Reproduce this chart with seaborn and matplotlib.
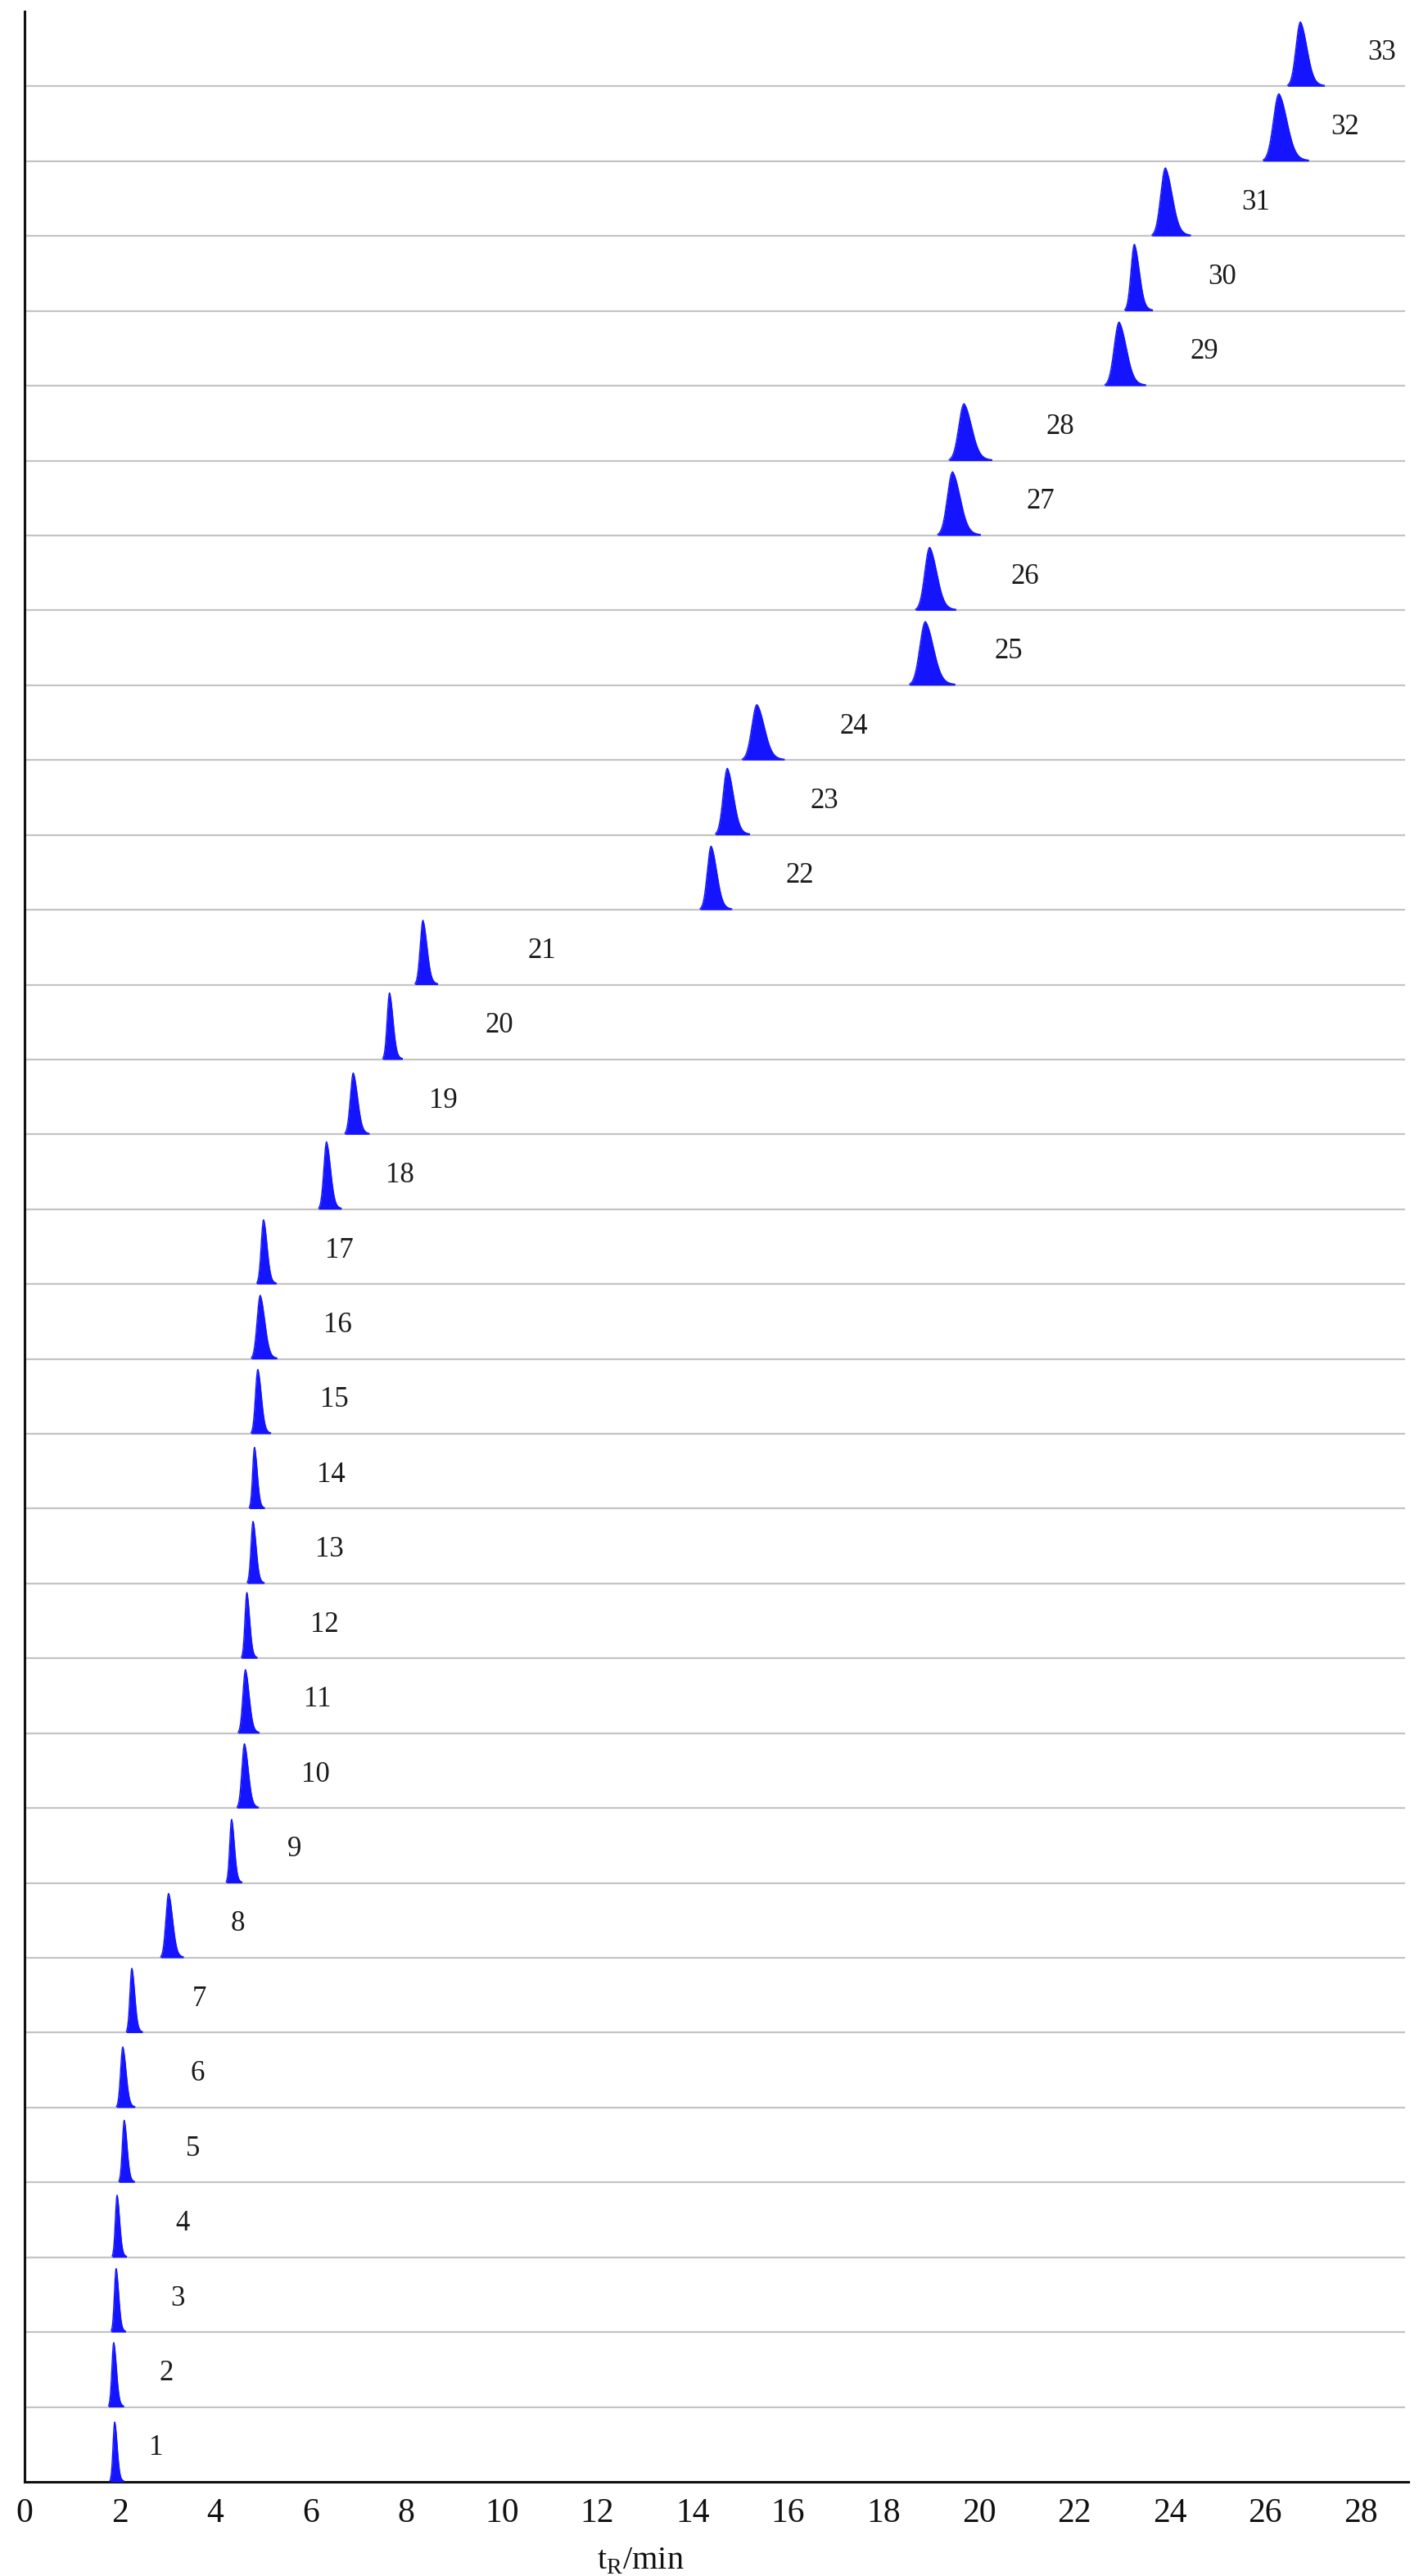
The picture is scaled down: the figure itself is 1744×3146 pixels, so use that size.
import numpy as np
import pandas as pd
import matplotlib
matplotlib.use("Agg")
import matplotlib.pyplot as plt
import seaborn as sns

# Peak number, apex retention time (min), relative height, base width (min), label position (min)
peak_no = list(range(1, 34))
rt = [1.89, 1.87, 1.92, 1.94, 2.09, 2.06, 2.25, 3.02, 4.34, 4.61,
      4.63, 4.66, 4.79, 4.82, 4.89, 4.94, 5.01, 6.33, 6.89, 7.65,
      8.35, 14.39, 14.73, 15.35, 18.88, 18.97, 19.45, 19.69, 22.94, 23.26,
      23.91, 26.29, 26.74]
height = [0.80, 0.86, 0.85, 0.83, 0.83, 0.81, 0.86, 0.86, 0.85, 0.86,
          0.85, 0.88, 0.83, 0.82, 0.86, 0.85, 0.86, 0.90, 0.82, 0.89,
          0.86, 0.85, 0.89, 0.74, 0.85, 0.84, 0.85, 0.76, 0.85, 0.89,
          0.91, 0.90, 0.86]
width = [0.33, 0.36, 0.34, 0.34, 0.37, 0.43, 0.38, 0.53, 0.37, 0.50,
         0.49, 0.37, 0.40, 0.36, 0.46, 0.60, 0.46, 0.53, 0.57, 0.46,
         0.53, 0.74, 0.80, 0.98, 1.06, 0.94, 1.00, 1.00, 0.95, 0.65,
         0.90, 1.06, 0.86]
label_rt = [2.76, 2.97, 3.21, 3.31, 3.53, 3.63, 3.67, 4.46, 5.66, 6.09,
            6.14, 6.29, 6.39, 6.43, 6.50, 6.57, 6.60, 7.87, 8.78, 9.95,
            10.84, 16.24, 16.76, 17.38, 20.62, 20.96, 21.30, 21.70, 24.72, 25.10,
            25.80, 27.67, 28.44]
x_ticks = list(range(0, 29, 2))

sns.set_style("white")
plt.rcParams['font.family'] = ['Liberation Serif', 'DejaVu Serif']

fig = plt.figure(figsize=(17.44, 31.46), dpi=100)
ax = fig.add_axes([30 / 1744, 115 / 3146, 1690 / 1744, (3031 - 14) / 3146])

# row separators
ax.hlines(range(1, 33), 0, 28.93, color='#c4c4c4', lw=1.6, zorder=1)

blue = '#1414ff'
for n, t0, h, w, lx in zip(peak_no, rt, height, width, label_rt):
    base = n - 1
    t = np.linspace(t0 - 1.5, t0 + 2.5, 1200)
    dt = t - t0
    sl, sr, tau = w * 0.11, w * 0.16, w * 0.22
    right = 0.8 * np.exp(-0.5 * (dt / sr) ** 2) + 0.2 * np.exp(-np.clip(dt, 0, None) / tau)
    sig = np.where(dt < 0, np.exp(-0.5 * (dt / sl) ** 2), right)
    df = pd.DataFrame({'t': t, 'y': base + h * sig})
    df = df[sig > 0.015]
    sns.lineplot(data=df, x='t', y='y', color=blue, lw=1, ax=ax, zorder=3)
    ax.fill_between(df['t'], base, df['y'], color=blue, lw=0, zorder=3)
    ax.text(lx, base + 0.45, str(n), fontsize=25, color='#1a1a1a',
            ha='center', va='center')

ax.set_xlim(0, 29)
ax.set_ylim(0, 33)
ax.set_xticks(x_ticks)
ax.set_yticks([])
ax.tick_params(axis='x', length=0, pad=14, labelsize=30, colors='#111111')
ax.set_ylabel('')
ax.set_xlabel(r't$_{\mathregular{R}}$/min', fontsize=29, color='#111111')
ax.xaxis.set_label_coords(0.445, -0.026)

for s in ['top', 'right']:
    ax.spines[s].set_visible(False)
for s in ['left', 'bottom']:
    ax.spines[s].set_color('#111111')
    ax.spines[s].set_linewidth(2.2)

fig.savefig('out.png', dpi=100)
